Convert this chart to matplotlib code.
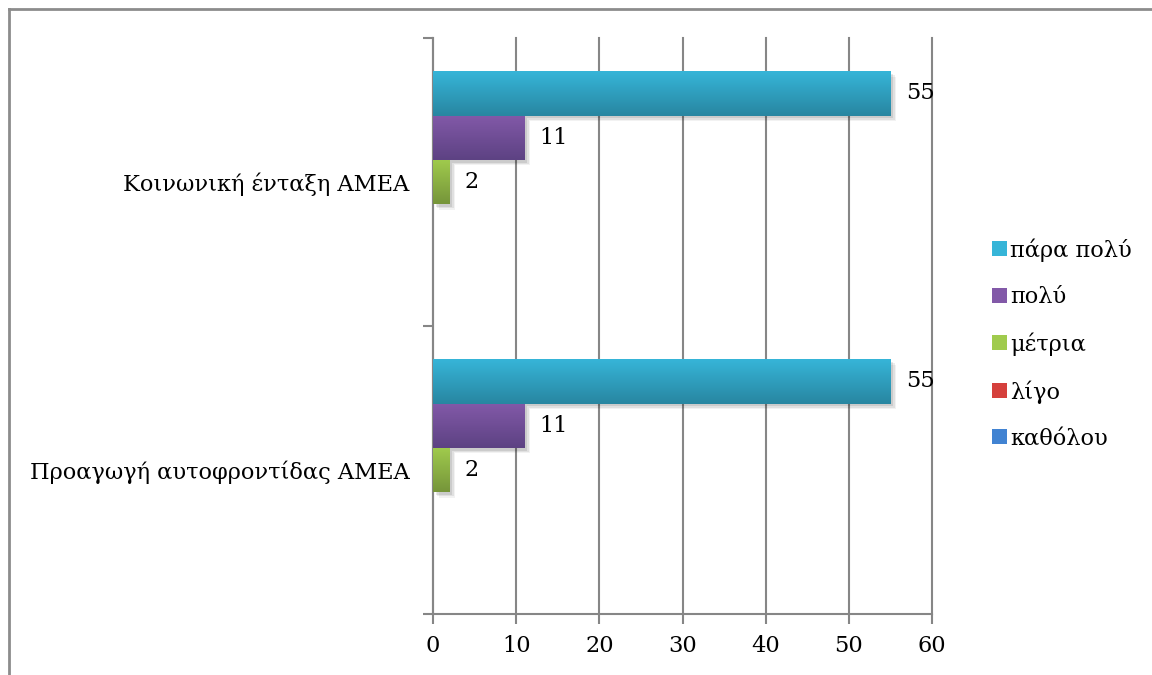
import numpy as np
import matplotlib
matplotlib.use("Agg")
import matplotlib.pyplot as plt
from matplotlib.patches import Patch
from matplotlib.colors import LinearSegmentedColormap
import matplotlib.patheffects as pe

plt.rcParams['font.family'] = ['DejaVu Serif']

categories = ["Προαγωγή αυτοφροντίδας ΑΜΕΑ", "Κοινωνική ένταξη ΑΜΕΑ"]
series = ["καθόλου", "λίγο", "μέτρια", "πολύ", "πάρα πολύ"]
values = {
    "καθόλου":   [0, 0],
    "λίγο":      [0, 0],
    "μέτρια":    [2, 2],
    "πολύ":      [11, 11],
    "πάρα πολύ": [55, 55],
}
# (light top, dark bottom) shades for each series
shades = {
    "καθόλου":   ("#4183D2", "#2C5B97"),
    "λίγο":      ("#D5403C", "#A02B29"),
    "μέτρια":    ("#A0CB4D", "#76953A"),
    "πολύ":      ("#8259A8", "#5D4283"),
    "πάρα πολύ": ("#36B5D8", "#2886A1"),
}
xticks = [0, 10, 20, 30, 40, 50, 60]

W, H, DPI = 1152, 675, 100
FS = 16.2
fig = plt.figure(figsize=(W / DPI, H / DPI), dpi=DPI)
ax = fig.add_axes([433 / W, 1 - 614 / H, (932 - 433) / W, (614 - 38) / H])

gray = "#868686"
n = len(series)
gap = 1.5
h = 1.0 / (n + gap)
ypos = np.arange(len(categories))

soft_shadow = [pe.SimplePatchShadow(offset=(o, -o), alpha=a, shadow_rgbFace="#000000")
               for o, a in ((4, 0.05), (3, 0.07), (2, 0.09))] + [pe.Normal()]

for j, name in enumerate(series):
    offs = (j - (n - 1) / 2) * h
    top, bot = shades[name]
    cmap = LinearSegmentedColormap.from_list(name, [bot, top])
    bars = ax.barh(ypos + offs, values[name], height=h, color=top,
                   edgecolor="none", zorder=3, path_effects=soft_shadow)
    grad = np.linspace(0, 1, 64).reshape(-1, 1)
    for b, v in zip(bars, values[name]):
        if v <= 0:
            continue
        x0, y0, bw, bh = b.get_x(), b.get_y(), b.get_width(), b.get_height()
        im = ax.imshow(grad, extent=[x0, x0 + bw, y0, y0 + bh], origin="lower",
                       cmap=cmap, aspect="auto", zorder=4, interpolation="bilinear")
        im.set_clip_path(b)
        ax.annotate(f"{v}", xy=(x0 + bw, y0 + bh / 2), xytext=(11, 0),
                    textcoords="offset points", va="center", ha="left",
                    fontsize=FS, color="black", zorder=6)

ax.set_xlim(0, 60)
ax.set_ylim(-0.5, len(categories) - 0.5)
ax.set_xticks(xticks)
ax.set_xticklabels([str(t) for t in xticks], fontsize=FS)
ax.tick_params(axis="x", direction="out", length=7, width=1.5, color=gray, pad=8)

ax.set_yticks(np.arange(-0.5, len(categories), 1.0))
ax.set_yticklabels([])
ax.set_yticks(ypos, minor=True)
ax.set_yticklabels(categories, minor=True, fontsize=FS)
ax.tick_params(axis="y", which="major", direction="out", length=7, width=1.5, color=gray)
ax.tick_params(axis="y", which="minor", length=0, pad=17)

ax.grid(axis="x", color=gray, linewidth=1.5, zorder=0)
for gl in ax.get_xgridlines():
    gl.set_clip_on(False)
ax.set_axisbelow(True)
for side in ("top", "right"):
    ax.spines[side].set_visible(False)
for side in ("left", "bottom"):
    ax.spines[side].set_color(gray)
    ax.spines[side].set_linewidth(1.5)

handles = [Patch(facecolor=shades[s][0], edgecolor="none") for s in reversed(series)]
fig.legend(handles, list(reversed(series)), loc="center left",
           bbox_to_anchor=(983 / W, 1 - 344 / H), frameon=False, fontsize=FS,
           handlelength=0.65, handleheight=0.65, handletextpad=0.15,
           labelspacing=1.08, borderaxespad=0)

# outer frame
fig.add_artist(plt.Line2D([9 / W, 9 / W], [0, 1 - 9 / H], color="#8C8C8C",
                          linewidth=2, transform=fig.transFigure))
fig.add_artist(plt.Line2D([9 / W, 1], [1 - 9 / H, 1 - 9 / H], color="#8C8C8C",
                          linewidth=2, transform=fig.transFigure))

fig.savefig("out.png", dpi=DPI)
